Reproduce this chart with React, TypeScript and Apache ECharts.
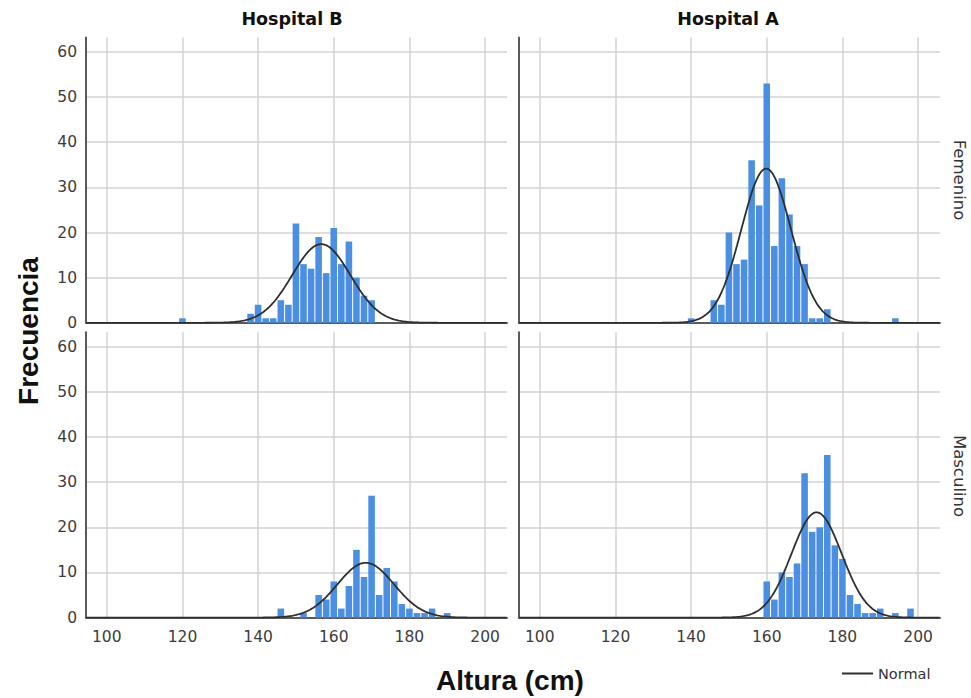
import React, { useEffect, useRef } from "react";
import * as echarts from "echarts";

// ---- Data ----
const BIN_WIDTH = 2; // cm per histogram bin
const X_MIN = 94.5;
const X_MAX = 205.8;
const Y_MAX = 63.2;

const hospitals = ["Hospital B", "Hospital A"];
const sexes = ["Femenino", "Masculino"];

// Hospital B – Femenino
const femBCenters = [120, 138, 140, 142, 144, 146, 148, 150, 152, 154, 156, 158, 160, 162, 164, 166, 168, 170];
const femBCounts = [1, 2, 4, 1, 1, 5, 4, 22, 13, 12, 19, 11, 21, 13, 18, 10, 6, 5];

// Hospital A – Femenino
const femACenters = [140, 146, 148, 150, 152, 154, 156, 158, 160, 162, 164, 166, 168, 170, 172, 174, 176, 194];
const femACounts = [1, 5, 4, 20, 13, 14, 36, 26, 53, 17, 32, 24, 17, 13, 1, 1, 3, 1];

// Hospital B – Masculino
const mascBCenters = [146, 152, 156, 158, 160, 162, 164, 166, 168, 170, 172, 174, 176, 178, 180, 182, 184, 186, 190];
const mascBCounts = [2, 1, 5, 4, 8, 2, 7, 15, 9, 27, 5, 11, 8, 3, 2, 1, 1, 2, 1];

// Hospital A – Masculino
const mascACenters = [160, 162, 164, 166, 168, 170, 172, 174, 176, 178, 180, 182, 184, 186, 188, 190, 194, 198];
const mascACounts = [8, 4, 10, 9, 12, 32, 19, 20, 36, 16, 13, 5, 3, 1, 1, 2, 1, 2];

// panel order: top-left, top-right, bottom-left, bottom-right
const panels = [
  { centers: femBCenters, counts: femBCounts },
  { centers: femACenters, counts: femACounts },
  { centers: mascBCenters, counts: mascBCounts },
  { centers: mascACenters, counts: mascACounts },
];

// Normal curve fitted to each histogram (mean / SD of the data, scaled to counts)
function normalCurve(centers: number[], counts: number[]) {
  const n = counts.reduce((a, b) => a + b, 0);
  const mean = centers.reduce((s, c, i) => s + c * counts[i], 0) / n;
  const variance =
    centers.reduce((s, c, i) => s + (c - mean) * (c - mean) * counts[i], 0) / (n - 1);
  const sd = Math.sqrt(variance);
  const pts: number[][] = [];
  for (let x = X_MIN; x <= X_MAX + 1e-9; x += 0.4) {
    const z = (x - mean) / sd;
    pts.push([x, (n * BIN_WIDTH * Math.exp(-0.5 * z * z)) / (sd * Math.sqrt(2 * Math.PI))]);
  }
  return pts;
}

const TICK_FONT = "DejaVu Sans";

export default function App() {
  const ref = useRef<HTMLDivElement>(null);

  useEffect(() => {
    if (!ref.current) return;
    const chart = echarts.init(ref.current, undefined, { renderer: "svg" });

    const grids = [
      { left: 86, top: 37.5, width: 421, height: 285.3 },
      { left: 519, top: 37.5, width: 421, height: 285.3 },
      { left: 86, top: 332.3, width: 421, height: 285.3 },
      { left: 519, top: 332.3, width: 421, height: 285.3 },
    ];

    const xAxes = grids.map((_, i) => ({
      type: "value",
      gridIndex: i,
      min: X_MIN,
      max: X_MAX,
      splitNumber: 5,
      axisLine: { show: true, onZero: false, lineStyle: { color: "#5a5a5a", width: 2 } },
      axisTick: { show: false },
      splitLine: {
        show: true,
        showMinLine: false,
        showMaxLine: false,
        lineStyle: { color: "#d3d3d3", width: 1.5 },
      },
      axisLabel: {
        show: i >= 2,
        showMinLabel: false,
        showMaxLabel: false,
        color: "#3c3c3c",
        fontSize: 15.5,
        fontFamily: TICK_FONT,
        margin: 11,
      },
    }));

    const yAxes = grids.map((_, i) => ({
      type: "value",
      gridIndex: i,
      min: 0,
      max: Y_MAX,
      interval: 10,
      axisLine: { show: true, lineStyle: { color: "#5a5a5a", width: 2 } },
      axisTick: { show: false },
      splitLine: {
        show: true,
        showMinLine: false,
        showMaxLine: false,
        lineStyle: { color: "#d3d3d3", width: 1.5 },
      },
      axisLabel: {
        show: i % 2 === 0,
        showMaxLabel: false,
        color: "#3c3c3c",
        fontSize: 15.5,
        fontFamily: TICK_FONT,
        margin: 9,
      },
    }));

    const series: any[] = [];
    panels.forEach((p, i) => {
      series.push({
        type: "custom",
        xAxisIndex: i,
        yAxisIndex: i,
        encode: { x: 0, y: 1 },
        data: p.centers.map((c, j) => [c, p.counts[j]]),
        renderItem: (_params: any, api: any) => {
          const c = api.value(0);
          const n = api.value(1);
          const p0 = api.coord([c - BIN_WIDTH / 2, n]);
          const p1 = api.coord([c + BIN_WIDTH / 2, 0]);
          return {
            type: "rect",
            shape: {
              x: p0[0] + 0.5,
              y: p0[1],
              width: p1[0] - p0[0] - 1,
              height: p1[1] - p0[1],
            },
            style: { fill: "#4a8fe2" },
          };
        },
        z: 2,
      });
      series.push({
        type: "line",
        name: "Normal",
        xAxisIndex: i,
        yAxisIndex: i,
        data: normalCurve(p.centers, p.counts),
        showSymbol: false,
        symbol: "none",
        smooth: false,
        lineStyle: { color: "#2e2e2e", width: 1.8 },
        itemStyle: { color: "#2e2e2e" },
        z: 3,
      });
    });

    chart.setOption({
      animation: false,
      backgroundColor: "#ffffff",
      grid: grids.map((g) => ({ ...g, containLabel: false, outerBoundsMode: "none" })),
      xAxis: xAxes,
      yAxis: yAxes,
      series,
      legend: {
        data: [{ name: "Normal", icon: "rect" }],
        left: 842,
        top: 666,
        itemWidth: 31,
        itemHeight: 2,
        padding: 0,
        textStyle: { fontSize: 14.5, color: "#333333", fontFamily: TICK_FONT },
        selectedMode: false,
      },
      graphic: [
        {
          type: "text",
          x: 292,
          y: 19,
          style: {
            text: hospitals[0],
            font: "bold 17.5px 'DejaVu Sans'",
            fill: "#111111",
            textAlign: "center",
            textVerticalAlign: "middle",
          },
        },
        {
          type: "text",
          x: 728,
          y: 19,
          style: {
            text: hospitals[1],
            font: "bold 17.5px 'DejaVu Sans'",
            fill: "#111111",
            textAlign: "center",
            textVerticalAlign: "middle",
          },
        },
        {
          type: "text",
          x: 959,
          y: 180,
          rotation: -Math.PI / 2,
          style: {
            text: sexes[0],
            font: "16.5px 'DejaVu Sans'",
            fill: "#333333",
            textAlign: "center",
            textVerticalAlign: "middle",
          },
        },
        {
          type: "text",
          x: 959,
          y: 476,
          rotation: -Math.PI / 2,
          style: {
            text: sexes[1],
            font: "16.5px 'DejaVu Sans'",
            fill: "#333333",
            textAlign: "center",
            textVerticalAlign: "middle",
          },
        },
        {
          type: "text",
          x: 28,
          y: 331,
          rotation: Math.PI / 2,
          style: {
            text: "Frecuencia",
            font: "bold 28px 'Liberation Sans'",
            fill: "#111111",
            textAlign: "center",
            textVerticalAlign: "middle",
          },
        },
        {
          type: "text",
          x: 510,
          y: 680,
          style: {
            text: "Altura (cm)",
            font: "bold 28px 'Liberation Sans'",
            fill: "#111111",
            textAlign: "center",
            textVerticalAlign: "middle",
          },
        },
      ],
    });

    return () => chart.dispose();
  }, []);

  return (
    <div
      ref={ref}
      style={{ position: "fixed", left: 0, top: 0, width: 971, height: 698, background: "#fff" }}
    />
  );
}
